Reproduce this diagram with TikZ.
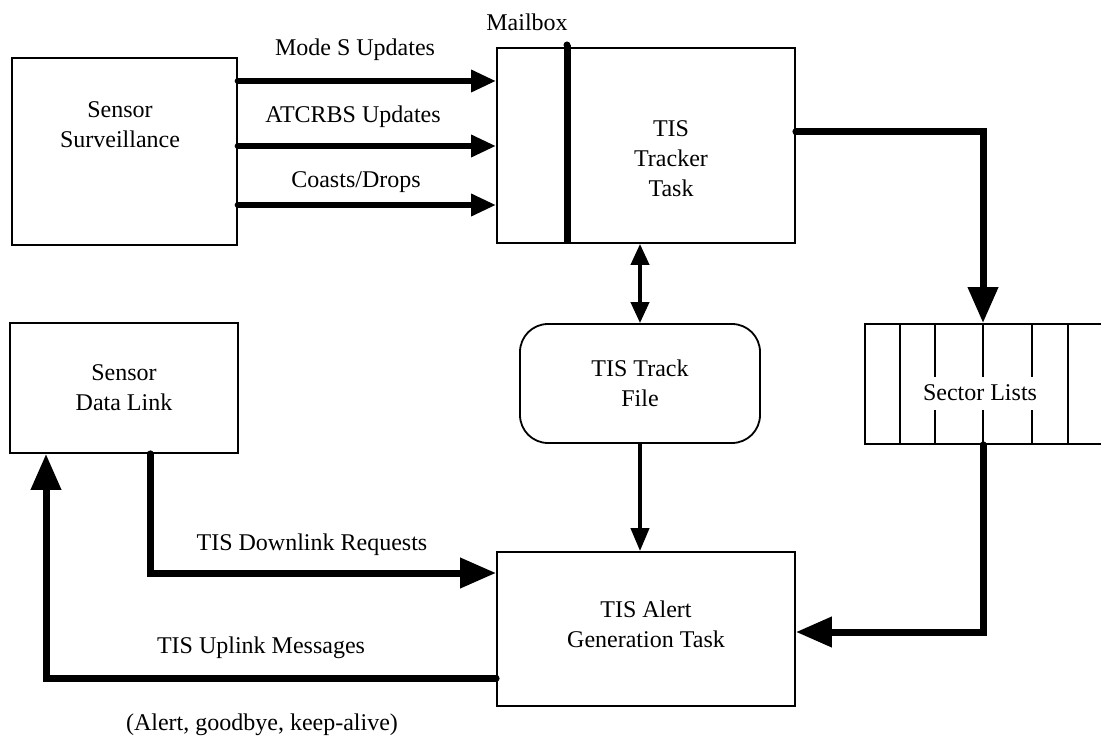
\documentclass[tikz,border=0pt]{standalone}
\usepackage{fontspec}
\setmainfont{Liberation Serif}
\usetikzlibrary{arrows.meta,calc}
\begin{document}
\begin{tikzpicture}[x=1pt,y=-1pt,
  box/.style={draw,line width=1.8pt,inner sep=0pt,rectangle},
  lbl/.style={font=\fontsize{24}{30}\selectfont,align=center,inner sep=0pt},
  bigflow/.style={line width=7pt,line cap=round,-{Triangle[length=36pt,width=29pt]}},
  midflow/.style={line width=6.5pt,line cap=round,-{Triangle[length=25pt,width=21pt]}},
  thinflow/.style={line width=4pt,-{Triangle[length=23pt,width=18pt]}},
  divider/.style={line width=1.8pt}
]
\useasboundingbox (0,0) rectangle (1101,738);
\path[fill=white] (0,0) rectangle (1101,738);

% boxes
\node[box,minimum width=225pt,minimum height=187pt] (ss) at (124.5,151.5) {};
\node[lbl] (ssT) at (120,125) {Sensor\\Surveillance};
\node[box,lbl,minimum width=228pt,minimum height=130pt] (dl) at (124,388) {Sensor\\Data Link};
\node[box,minimum width=298pt,minimum height=195pt] (tt) at (646,145.5) {};
\node[lbl] (ttT) at (671,159) {TIS\\Tracker\\Task};
\node[box,lbl,rounded corners=28pt,minimum width=240pt,minimum height=119pt] (tf) at (640,383.5) {TIS Track\\File};
\node[box,minimum width=298pt,minimum height=154pt] (ag) at (646,629) {};
\node[lbl] (agT) at (646,624) {TIS Alert\\Generation Task};
\node[box,minimum width=260pt,minimum height=120pt,anchor=west] (sl) at (864,384) {};
\node[lbl] (slT) at (980,393) {Sector Lists};

% sector dividers
\draw[divider] (900,324) -- (900,444);
\draw[divider] (1068,324) -- (1068,444);
\foreach \xx in {935,983,1032}{
  \draw[divider] (\xx,324) -- (\xx,377);
  \draw[divider] (\xx,410) -- (\xx,444);
}

% mailbox
\node[lbl] (mb) at (527,22) {Mailbox};
\draw[line width=7pt] (567,45) -- (tt.south -| 567,0);
\fill (567,45) circle (3.5pt);

% input arrows
\draw[midflow] (ss.east |- 0,81) -- (tt.west |- 0,81);
\draw[midflow] (ss.east |- 0,146) -- (tt.west |- 0,146);
\draw[midflow] (ss.east |- 0,205) -- (tt.west |- 0,205);
\node[lbl] (l1) at (355,50) {Mode S Updates};
\node[lbl] (l2) at (353,117) {ATCRBS Updates};
\node[lbl] (l3) at (356,182) {Coasts/Drops};

% tracker to sector lists
\draw[bigflow] (tt.east |- 0,132) -| (sl.north -| 983,0);
% tracker <-> track file
\draw[line width=4pt,{Triangle[length=21pt,width=18pt]}-{Triangle[length=21pt,width=18pt]}] (tf.north |- tt.south) -- (tf.north);
% track file -> alert
\draw[thinflow] (tf.south) -- (tf.south |- ag.north);
% sector lists -> alert
\draw[bigflow] (sl.south -| 983,0) |- (ag.east |- 0,632);
% downlink
\draw[bigflow] (dl.south -| 150,0) |- (ag.west |- 0,573);
\node[lbl] (l4) at (312,545) {TIS Downlink Requests};
% uplink
\draw[bigflow] (ag.west |- 0,678) -| (dl.south -| 46,0);
\node[lbl] (l5) at (261,648) {TIS Uplink Messages};
\node[lbl] (l6) at (262,725) {(Alert, goodbye, keep-alive)};
\end{tikzpicture}
\end{document}
